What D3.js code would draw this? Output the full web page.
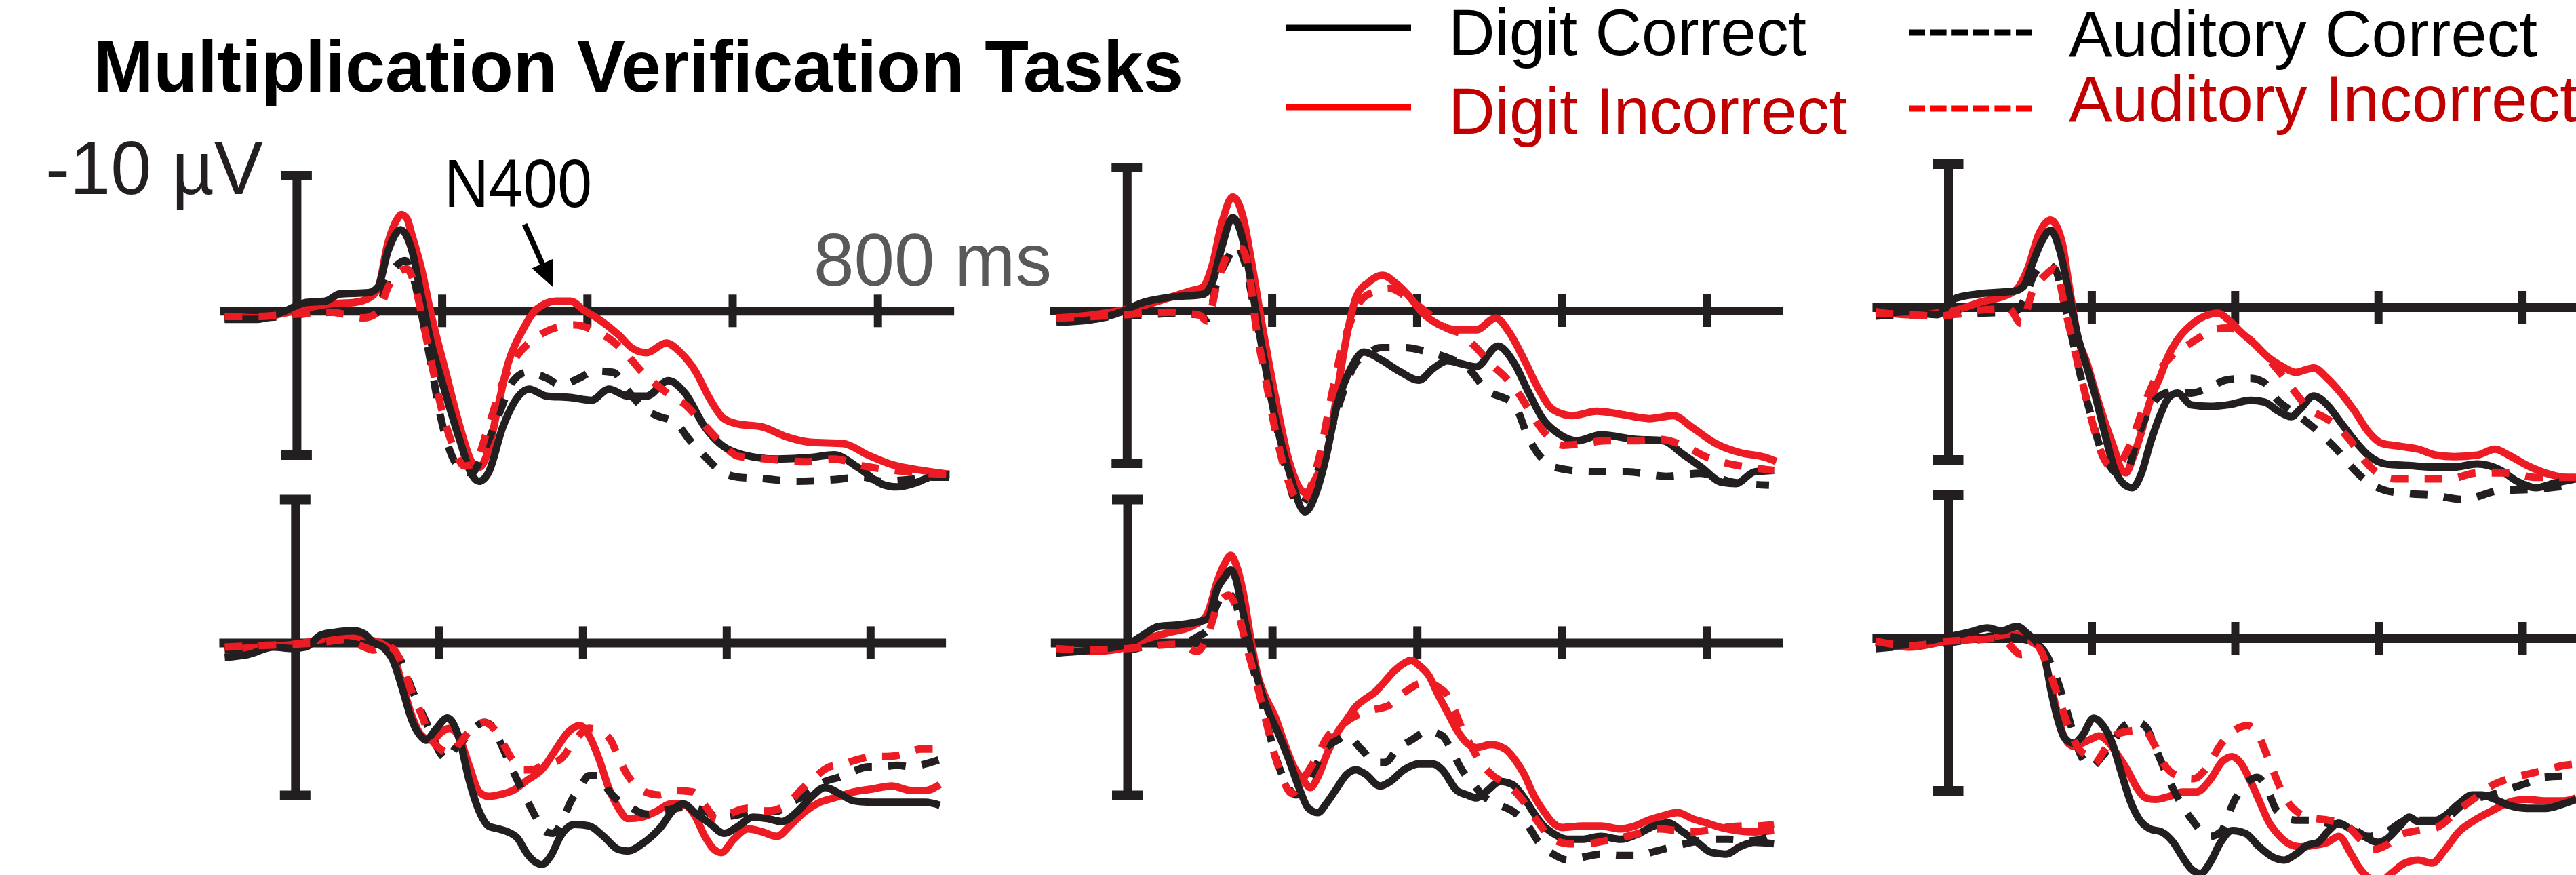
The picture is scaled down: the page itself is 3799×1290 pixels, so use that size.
<!DOCTYPE html>
<html><head><meta charset="utf-8">
<script src="https://cdn.jsdelivr.net/npm/d3@7"></script>
<style>
html,body{margin:0;padding:0;background:#fff;overflow:hidden}
svg{display:block}
text{font-family:"Liberation Sans Narrow","Arial Narrow","Liberation Sans",Arial,sans-serif}
</style></head><body>
<svg id="chart" width="3799" height="1290"></svg>
<script>
// ---------- DATA (time in ms, amplitude in µV, negative plotted up) ----------
const conditions = ["Digit Correct", "Digit Incorrect", "Auditory Correct", "Auditory Incorrect"];
const timeTicks = [200, 400, 600, 800];
const capValues = [-9.7, 10.3];
const titleText = "Multiplication Verification Tasks";

const p1DigitCorrect = [[-99,0.6],[-53,0.6],[-20,0.1],[13,-0.6],[40,-0.7],[59,-1.2],[99,-1.3],[112,-1.7],[126,-4.3],[143,-5.8],[159,-4.3],[172,-1.0],[185,2.2],[205,5.9],[225,9.3],[241,11.7],[251,12.2],[264,11.6],[284,8.3],[304,6.2],[320,5.6],[344,6.1],[377,6.2],[406,6.4],[430,5.6],[456,6.1],[482,6.1],[512,5.0],[535,5.9],[562,8.3],[585,9.6],[615,10.3],[661,10.6],[707,10.5],[740,10.3],[773,11.2],[806,12.4],[826,12.6],[853,12.3],[872,11.9],[899,11.7]];
const p1DigitIncorrect = [[-99,0.4],[-53,0.5],[-20,0.2],[13,-0.2],[46,-0.5],[79,-0.6],[99,-0.9],[112,-1.6],[126,-4.9],[139,-6.6],[144,-6.9],[152,-6.6],[159,-5.4],[172,-3.0],[185,0.2],[205,4.3],[225,8.3],[241,10.8],[251,11.2],[264,10.0],[278,6.7],[291,3.8],[311,1.4],[330,-0.1],[357,-0.7],[377,-0.7],[397,0.0],[416,0.6],[443,1.7],[463,2.7],[482,3.0],[509,2.3],[529,3.0],[549,4.3],[568,6.2],[588,7.7],[608,8.1],[641,8.3],[674,9.0],[707,9.4],[753,9.5],[786,10.3],[820,11.0],[859,11.4],[899,11.7]];
const p1AuditoryCorrect = [[-99,0.5],[-53,0.5],[-20,0.4],[13,0.2],[46,0.1],[92,0.0],[109,0.2],[126,-2.3],[139,-3.3],[149,-3.6],[159,-2.7],[172,0.2],[185,3.8],[198,7.5],[211,10.0],[228,11.4],[241,11.6],[258,10.0],[278,7.5],[297,5.1],[317,4.4],[344,4.8],[363,5.3],[390,4.8],[410,4.3],[436,4.4],[456,5.7],[476,6.9],[496,7.5],[522,8.0],[542,9.3],[562,10.4],[582,11.4],[608,11.9],[641,12.0],[687,12.2],[734,12.1],[780,11.9],[806,12.2],[839,12.1],[872,11.9],[899,11.9]];
const p1AuditoryIncorrect = [[-99,0.4],[-53,0.4],[-20,0.3],[13,0.2],[46,0.1],[92,0.5],[112,0.1],[126,-1.7],[139,-2.7],[152,-3.0],[165,-1.4],[175,1.0],[188,4.3],[202,7.5],[218,10.0],[231,11.1],[245,10.9],[264,8.3],[284,5.1],[304,3.2],[330,1.9],[357,1.2],[383,1.0],[410,1.4],[436,2.2],[456,3.2],[476,4.4],[496,5.3],[516,6.1],[535,6.7],[555,7.8],[582,9.3],[608,10.4],[648,10.6],[700,10.8],[740,10.6],[780,11.1],[820,11.4],[859,11.6],[899,11.7]];

const p2DigitCorrect = [[-97,0.8],[-48,0.6],[-8,0.1],[19,-0.5],[58,-0.9],[105,-1.1],[118,-1.9],[131,-4.3],[146,-6.3],[161,-4.6],[171,-2.0],[184,1.8],[204,7.1],[224,10.9],[246,13.6],[262,12.2],[272,10.5],[290,6.4],[310,3.8],[327,2.8],[350,3.3],[376,4.1],[403,4.7],[423,3.9],[442,3.4],[462,3.6],[482,3.8],[512,2.4],[535,3.6],[555,5.6],[575,7.4],[595,8.3],[621,8.8],[654,8.4],[701,8.7],[740,8.8],[767,9.7],[793,10.6],[820,11.6],[840,11.7],[866,10.9],[893,10.8]];
const p2DigitIncorrect = [[-97,0.5],[-48,0.3],[19,-0.3],[85,-1.3],[105,-1.6],[118,-3.1],[131,-5.9],[146,-7.7],[161,-6.2],[171,-3.6],[184,0.2],[204,5.6],[224,10.2],[246,12.3],[262,11.2],[277,9.4],[290,5.6],[303,1.8],[317,-1.0],[333,-1.9],[353,-2.4],[370,-1.9],[389,-1.0],[409,0.2],[429,0.9],[456,1.3],[482,1.3],[509,0.5],[528,1.5],[548,3.3],[568,5.3],[588,6.7],[615,7.1],[648,6.8],[681,7.0],[721,7.3],[754,7.1],[780,7.9],[813,9.0],[846,9.6],[879,9.9],[896,10.2]];
const p2AuditoryCorrect = [[-97,0.7],[-48,0.6],[-8,0.3],[19,0.3],[58,0.2],[105,0.3],[112,0.5],[124,-1.9],[137,-3.3],[151,-4.4],[163,-3.2],[177,0.2],[191,3.6],[204,7.1],[217,10.2],[237,13.2],[263,10.9],[283,7.9],[300,5.3],[315,3.6],[330,3.0],[350,2.5],[383,2.5],[416,2.8],[449,3.3],[469,3.8],[495,5.3],[535,6.4],[555,8.7],[591,10.6],[641,10.9],[691,10.9],[744,11.2],[790,11.0],[836,11.6],[886,11.8]];
const p2AuditoryIncorrect = [[-97,0.5],[-48,0.4],[-8,0.3],[19,0.2],[58,0.1],[100,0.3],[111,0.7],[124,-1.7],[141,-3.9],[158,-4.2],[168,-2.8],[178,1.0],[191,4.5],[204,7.9],[217,10.6],[240,13.0],[264,10.2],[283,5.6],[297,2.5],[310,0.6],[323,-0.7],[343,-1.3],[363,-1.5],[389,-0.8],[416,0.2],[442,1.2],[462,1.6],[482,2.5],[502,3.6],[522,4.5],[542,5.7],[562,7.3],[581,8.5],[601,9.1],[628,9.0],[661,8.8],[701,8.8],[734,8.7],[767,9.1],[800,9.9],[826,10.3],[860,10.6],[893,10.8]];

const p3DigitCorrect = [[-101,0.5],[-53,0.3],[-15,0.5],[10,-0.6],[42,-0.9],[93,-1.1],[105,-1.4],[118,-3.0],[130,-4.4],[143,-5.2],[156,-3.8],[168,-1.1],[181,2.0],[194,4.1],[206,6.1],[219,8.6],[232,10.9],[244,11.9],[257,12.2],[270,11.2],[282,9.2],[295,7.4],[308,6.1],[320,5.8],[339,6.6],[365,6.7],[390,6.6],[422,6.3],[441,6.4],[460,7.0],[479,7.4],[491,6.9],[510,6.0],[529,6.6],[548,7.8],[567,9.0],[586,10.0],[611,10.6],[643,10.7],[675,10.8],[706,10.8],[738,10.6],[770,11.0],[795,11.8],[820,12.2],[846,11.9],[876,11.6]];
const p3DigitIncorrect = [[-101,0.3],[-53,0.5],[10,0.2],[42,-0.3],[93,-1.1],[111,-2.6],[127,-5.0],[143,-5.9],[159,-4.4],[168,-1.7],[181,2.0],[194,3.8],[206,5.8],[219,7.8],[232,9.6],[241,10.9],[248,11.2],[257,10.3],[270,8.4],[282,6.3],[295,4.8],[308,3.2],[320,2.2],[339,1.2],[358,0.6],[377,0.4],[390,0.8],[409,1.7],[428,2.5],[447,3.4],[466,4.0],[485,4.4],[510,4.1],[529,4.8],[548,5.8],[567,7.0],[586,8.4],[605,9.2],[630,9.4],[656,9.6],[681,10.0],[706,10.1],[738,10.0],[763,9.6],[782,10.0],[808,10.7],[833,11.2],[858,11.5],[876,11.6]];
const p3AuditoryCorrect = [[-101,0.6],[-53,0.5],[-15,0.5],[42,0.4],[93,0.3],[105,-0.4],[121,-2.3],[137,-2.9],[149,-2.6],[162,-0.3],[175,2.5],[187,5.1],[200,7.4],[213,9.6],[225,10.7],[235,11.2],[251,10.9],[263,9.0],[276,7.4],[295,6.0],[314,5.7],[339,5.8],[365,5.4],[390,4.9],[422,4.8],[441,5.1],[460,6.3],[479,7.0],[504,7.9],[523,8.7],[542,9.6],[561,10.7],[580,11.6],[611,12.4],[643,12.6],[675,12.7],[719,13.0],[769,12.4],[820,12.3],[876,12.0]];
const p3AuditoryIncorrect = [[-101,0.4],[-53,0.5],[-15,0.6],[42,0.2],[85,0.1],[102,1.1],[118,-1.1],[134,-2.1],[149,-2.6],[165,0.5],[178,3.2],[191,5.8],[203,8.1],[216,10.1],[225,10.7],[238,10.6],[251,9.6],[263,8.1],[276,6.3],[295,4.3],[314,3.2],[333,2.6],[352,2.0],[371,1.5],[390,1.4],[409,1.7],[428,2.5],[447,3.5],[466,4.6],[485,5.8],[504,6.9],[523,7.4],[542,8.0],[561,9.0],[580,10.3],[599,11.2],[624,11.6],[656,11.6],[700,11.6],[738,11.2],[782,11.2],[820,11.5],[876,11.5]];

const p4DigitCorrect = [[-98,1.0],[-65,0.8],[-30,0.3],[-5,0.4],[15,0.3],[35,-0.5],[55,-0.7],[82,-0.8],[96,-0.6],[109,0.0],[122,0.3],[136,1.2],[149,3.1],[162,5.2],[176,6.4],[182,6.6],[195,5.9],[212,5.1],[229,6.6],[242,9.3],[256,11.4],[269,12.4],[283,12.6],[296,12.8],[309,13.2],[323,14.3],[336,14.9],[343,15.0],[356,14.4],[369,13.1],[389,12.3],[409,12.4],[429,13.1],[450,14.0],[463,14.1],[483,13.6],[496,13.1],[510,12.4],[523,11.5],[540,10.9],[556,11.5],[576,12.2],[597,12.9],[617,12.4],[637,11.8],[657,11.9],[677,12.1],[697,11.5],[717,10.5],[737,9.8],[757,10.2],[777,10.7],[803,10.8],[830,10.8],[857,10.8],[877,10.8],[897,11.0]];
const p4DigitIncorrect = [[-98,0.5],[-51,0.3],[2,0.1],[35,-0.2],[69,-0.5],[102,-0.2],[122,0.1],[136,0.8],[149,2.8],[162,4.9],[176,6.3],[190,6.6],[205,6.0],[215,5.8],[229,6.5],[242,8.3],[256,10.1],[269,10.4],[283,10.3],[303,10.0],[323,9.3],[343,8.6],[363,7.2],[379,6.1],[396,5.6],[409,6.3],[423,7.9],[436,9.8],[450,11.2],[463,11.9],[483,11.8],[503,11.4],[523,10.9],[543,11.0],[556,11.7],[570,13.1],[583,14.0],[593,14.2],[610,13.3],[630,12.6],[650,12.8],[670,13.1],[690,12.3],[710,11.4],[730,10.8],[750,10.5],[777,10.1],[803,9.9],[830,9.7],[857,10.0],[877,10.0],[897,9.6]];
const p4AuditoryCorrect = [[-98,0.5],[-51,0.3],[2,0.2],[35,0.1],[69,-0.2],[96,0.1],[122,0.2],[136,0.5],[149,1.4],[162,3.1],[176,4.7],[189,6.1],[202,7.5],[212,7.9],[222,7.2],[236,6.5],[249,5.8],[263,5.4],[273,5.6],[283,6.5],[296,7.9],[309,9.3],[323,10.7],[336,11.9],[349,12.8],[359,12.9],[373,11.9],[383,10.8],[396,9.8],[409,9.0],[423,9.0],[436,10.0],[450,10.7],[463,11.0],[476,11.4],[490,11.6],[510,11.4],[530,11.2],[550,11.1],[570,11.4],[590,11.8],[610,11.7],[630,11.5],[650,11.4],[670,11.4],[690,10.8],[710,10.3],[723,9.8],[737,9.4],[757,9.1],[777,8.7],[797,8.4],[817,8.4],[837,8.3],[857,8.4],[877,8.2],[897,7.9]];
const p4AuditoryIncorrect = [[-98,0.3],[-51,0.2],[2,0.1],[35,0.0],[69,-0.2],[96,0.3],[109,0.5],[122,0.2],[136,0.4],[149,1.5],[162,3.3],[176,4.9],[189,6.5],[202,7.2],[216,7.5],[229,6.8],[246,5.8],[263,5.4],[276,5.8],[289,6.8],[302,7.9],[316,8.6],[329,8.6],[349,8.2],[369,7.9],[389,6.6],[409,5.8],[425,6.0],[439,6.6],[452,8.0],[463,9.0],[483,10.0],[506,10.3],[530,10.0],[553,10.1],[570,11.0],[586,11.9],[603,11.6],[630,11.2],[656,11.4],[683,11.0],[703,10.0],[723,9.1],[743,8.4],[763,8.2],[783,7.9],[803,7.7],[823,7.7],[850,7.5],[870,7.2],[897,7.2]];

const p5DigitCorrect = [[-98,0.7],[-48,0.5],[1,0.1],[18,-0.4],[44,-1.1],[71,-1.2],[97,-1.4],[111,-1.6],[124,-3.6],[134,-4.4],[143,-4.9],[150,-4.3],[157,-2.7],[167,-0.4],[177,1.9],[187,3.6],[197,4.9],[210,6.3],[223,7.9],[237,9.8],[250,11.2],[263,11.5],[276,10.8],[290,9.8],[303,8.9],[316,8.6],[329,8.9],[349,9.7],[363,9.4],[382,8.6],[402,8.2],[422,8.2],[435,8.6],[455,10.0],[469,10.3],[482,10.5],[495,10.1],[515,9.4],[532,9.6],[548,10.5],[561,11.5],[575,12.4],[588,12.9],[608,13.3],[628,13.3],[654,13.1],[681,13.3],[707,12.9],[727,12.4],[747,12.2],[767,12.8],[787,13.5],[807,14.2],[827,14.3],[846,13.8],[866,13.5],[893,13.6]];
const p5DigitIncorrect = [[-98,0.5],[-48,0.6],[1,0.3],[18,-0.1],[51,-0.6],[97,-1.3],[111,-2.0],[124,-4.1],[134,-5.3],[143,-5.9],[150,-5.3],[160,-3.4],[170,-0.4],[180,2.2],[190,3.6],[204,5.0],[217,6.8],[230,8.4],[243,9.3],[253,9.8],[263,9.1],[276,7.5],[290,6.1],[303,5.2],[316,4.3],[329,3.8],[343,3.3],[356,2.6],[369,1.9],[382,1.4],[392,1.2],[402,1.5],[416,2.2],[429,3.5],[442,4.7],[455,5.9],[469,6.8],[482,7.1],[502,6.9],[522,7.2],[535,7.9],[548,8.9],[561,10.3],[575,11.4],[588,12.2],[601,12.5],[628,12.4],[654,12.4],[681,12.6],[701,12.4],[720,12.0],[740,11.7],[760,11.5],[780,11.9],[800,12.2],[820,12.5],[840,12.7],[866,12.8],[893,12.7]];
const p5AuditoryCorrect = [[-98,0.7],[-48,0.5],[1,0.5],[38,0.1],[71,0.1],[97,-0.4],[111,-0.9],[124,-2.6],[137,-3.4],[150,-2.6],[163,-0.2],[180,2.9],[193,5.5],[206,7.9],[220,9.6],[233,10.3],[243,10.0],[256,8.8],[273,7.2],[290,6.6],[303,6.3],[323,7.2],[343,8.1],[356,8.1],[373,7.2],[392,6.6],[415,6.0],[435,6.3],[448,7.3],[462,8.6],[478,9.6],[495,10.5],[515,11.0],[535,11.5],[555,12.5],[568,13.5],[588,14.3],[608,14.7],[630,14.5],[654,14.3],[680,14.4],[704,14.4],[730,14.1],[754,13.8],[780,13.5],[803,13.3],[830,13.3],[860,13.4],[893,13.0]];
const p5AuditoryIncorrect = [[-98,0.4],[-48,0.5],[1,0.4],[38,0.2],[71,0.1],[97,0.6],[111,-0.5],[124,-2.4],[140,-3.2],[153,-2.0],[165,0.3],[180,3.0],[193,5.6],[206,8.0],[218,9.6],[227,10.2],[243,9.2],[263,7.6],[276,6.4],[296,5.6],[310,5.1],[336,4.6],[363,4.2],[382,3.4],[402,2.8],[416,2.7],[429,3.0],[441,3.5],[452,4.6],[462,5.8],[475,7.0],[485,7.9],[505,9.0],[525,9.6],[545,10.6],[565,12.0],[588,13.3],[610,13.6],[634,13.6],[660,13.4],[681,13.2],[707,12.9],[734,12.6],[757,12.7],[777,12.8],[800,12.7],[826,12.5],[850,12.4],[870,12.4],[893,12.3]];

const p6DigitCorrect = [[-101,0.6],[-53,0.4],[0,-0.1],[29,-0.4],[55,-0.7],[74,-0.5],[96,-0.8],[111,-0.3],[124,0.3],[134,1.1],[143,3.4],[153,5.5],[162,6.7],[175,7.1],[187,6.6],[203,5.4],[216,5.9],[229,7.1],[241,9.0],[254,11.0],[266,12.2],[282,12.9],[298,13.1],[314,13.8],[327,14.8],[339,15.6],[352,15.9],[365,15.2],[380,13.8],[396,13.0],[415,13.2],[434,14.1],[453,14.8],[469,15.0],[485,14.6],[501,14.0],[516,13.8],[529,13.1],[545,12.5],[561,12.9],[580,13.4],[599,13.8],[611,13.6],[630,12.7],[643,12.1],[656,12.4],[675,12.4],[693,12.0],[712,11.2],[731,10.6],[744,10.6],[763,10.9],[782,11.3],[807,11.5],[833,11.5],[858,11.2],[876,10.9]];
const p6DigitIncorrect = [[-101,0.3],[-53,0.6],[0,0.2],[29,0.1],[61,-0.1],[93,-0.3],[111,0.1],[130,0.8],[143,3.1],[153,5.2],[162,6.7],[175,7.3],[187,7.1],[200,6.8],[210,6.6],[225,7.1],[238,8.0],[251,9.0],[263,10.1],[276,10.8],[289,10.9],[308,10.7],[327,10.4],[346,10.4],[365,9.6],[383,8.3],[396,8.0],[409,8.5],[421,9.6],[434,11.0],[447,12.4],[459,13.2],[472,13.8],[491,14.1],[510,14.0],[529,13.8],[545,13.4],[561,14.5],[573,15.5],[586,16.2],[599,16.6],[618,15.9],[637,15.2],[656,15.0],[675,15.2],[693,14.3],[712,13.1],[731,12.4],[757,11.7],[782,11.1],[807,10.9],[833,11.0],[858,11.0],[876,10.8]];
const p6AuditoryCorrect = [[-101,0.7],[-53,0.5],[0,0.3],[42,0.0],[74,-0.2],[99,0.0],[124,0.4],[137,1.1],[149,2.4],[162,4.3],[172,6.0],[184,7.8],[200,8.7],[213,8.1],[229,7.1],[244,6.0],[260,5.6],[276,6.0],[289,7.4],[311,9.9],[339,12.2],[365,13.4],[380,13.1],[399,11.0],[418,9.7],[431,9.4],[444,10.1],[459,11.7],[485,12.3],[507,12.3],[529,12.5],[558,12.7],[586,13.4],[611,13.1],[640,12.3],[687,12.3],[725,11.0],[757,10.6],[782,10.2],[807,9.8],[829,9.4],[876,9.3]];
const p6AuditoryIncorrect = [[-101,0.2],[-53,0.5],[0,0.2],[42,0.1],[74,0.0],[102,1.1],[124,0.6],[143,2.5],[156,4.3],[168,6.0],[181,7.4],[197,8.1],[203,8.5],[219,7.5],[235,6.5],[250,6.3],[273,6.2],[289,7.3],[301,8.5],[320,9.3],[342,9.5],[360,8.8],[380,7.2],[400,6.2],[418,5.9],[433,6.6],[447,8.2],[469,10.7],[502,12.1],[530,12.3],[554,12.6],[575,13.6],[592,14.3],[611,14.0],[630,13.3],[656,13.0],[681,12.8],[712,11.6],[735,10.8],[757,10.0],[782,9.5],[807,9.2],[833,8.9],[858,8.6],[876,8.5]];

// ---------- LAYOUT / STYLE ----------
const INK = "#231f20", RED = "#ed1c24";
const panelData = [
  [p1DigitCorrect, p1DigitIncorrect, p1AuditoryCorrect, p1AuditoryIncorrect],
  [p2DigitCorrect, p2DigitIncorrect, p2AuditoryCorrect, p2AuditoryIncorrect],
  [p3DigitCorrect, p3DigitIncorrect, p3AuditoryCorrect, p3AuditoryIncorrect],
  [p4DigitCorrect, p4DigitIncorrect, p4AuditoryCorrect, p4AuditoryIncorrect],
  [p5DigitCorrect, p5DigitIncorrect, p5AuditoryCorrect, p5AuditoryIncorrect],
  [p6DigitCorrect, p6DigitIncorrect, p6AuditoryCorrect, p6AuditoryIncorrect]
];
const panelLayout = [
  {x0:437.4,  s:1.071,  y0:458.3, k:20.6},
  {x0:1661.8, s:1.069,  y0:458,   k:21.8},
  {x0:2873,   s:1.057,  y0:453,   k:21.8},
  {x0:435.3,  s:1.06,   y0:947.4, k:21.8},
  {x0:1662.5, s:1.068,  y0:947.4, k:21.8},
  {x0:2873,   s:1.0575, y0:941,   k:21.8}
];
const seriesStyle = [
  {color: INK, dash: null},
  {color: RED, dash: null},
  {color: INK, dash: "26,24"},
  {color: RED, dash: "26,24"}
];
const drawOrder = [1, 0, 2, 3];
const xExtent = [-106, 905];

const svg = d3.select("#chart");
svg.append("rect").attr("width", 3799).attr("height", 1290).attr("fill", "#fff");

const scales = [];
panelData.forEach((series, i) => {
  const L = panelLayout[i];
  const x = d3.scaleLinear().domain(xExtent).range(xExtent.map(t => L.x0 + t * L.s));
  const y = d3.scaleLinear().domain([-10, 10]).range([L.y0 - 10 * L.k, L.y0 + 10 * L.k]);
  scales.push({x, y});
  const g = svg.append("g");

  const gx = g.append("g").attr("transform", `translate(0,${y(0)})`)
    .call(d3.axisBottom(x).tickValues(timeTicks).tickFormat("").tickSizeOuter(0).tickSizeInner(24));
  gx.select(".domain").attr("stroke", INK).attr("stroke-width", 13);
  gx.selectAll(".tick line").attr("y1", -24).attr("y2", 24).attr("stroke", INK).attr("stroke-width", 12);

  const yBar = d3.scaleLinear().domain(capValues).range(capValues.map(y));
  const gy = g.append("g").attr("transform", `translate(${x(0)},0)`)
    .call(d3.axisLeft(yBar).tickValues(capValues).tickFormat("").tickSizeOuter(0).tickSizeInner(0));
  gy.select(".domain").attr("stroke", INK).attr("stroke-width", 13);
  gy.selectAll(".tick line").attr("x1", -22.5).attr("x2", 22.5).attr("stroke", INK).attr("stroke-width", 14);

  const line = d3.line().x(d => x(d[0])).y(d => y(d[1])).curve(d3.curveMonotoneX);
  drawOrder.forEach(si => {
    const st = seriesStyle[si];
    g.append("path").datum(series[si])
      .attr("d", line)
      .attr("fill", "none")
      .attr("stroke", st.color)
      .attr("stroke-width", 11)
      .attr("stroke-linejoin", "round")
      .attr("stroke-dasharray", st.dash);
  });
});

// ---------- TEXT ----------
function txt(s, x, y, size, opts = {}) {
  const t = svg.append("text").attr("x", x).attr("y", y).text(s)
    .attr("font-size", size).attr("fill", opts.fill || "#000")
    .attr("font-weight", opts.weight || "normal");
  if (opts.len) t.attr("textLength", opts.len).attr("lengthAdjust", "spacingAndGlyphs");
  return t;
}
txt(titleText, 138, 135, 108, {weight: "bold", len: 1607});
txt("-10 µV", 67, 286, 111, {fill: INK, len: 321});
txt("N400", 655, 305, 100, {fill: "#000", len: 218});
txt("800 ms", 1200, 421, 110, {fill: "#58595b", len: 351});

const legendItems = [
  {label: conditions[0], lx: [1897, 2081], ly: 41,  tx: 2136, ty: 81,  len: 528, line: "#000",    text: "#000",    dash: null},
  {label: conditions[1], lx: [1897, 2081], ly: 158, tx: 2136, ty: 197, len: 588, line: "#ff0000", text: "#c00000", dash: null},
  {label: conditions[2], lx: [2815, 2997], ly: 48,  tx: 3051, ty: 83,  len: 691, line: "#000",    text: "#000",    dash: "24,7.6"},
  {label: conditions[3], lx: [2815, 2997], ly: 160, tx: 3051, ty: 179, len: 751, line: "#ff0000", text: "#c00000", dash: "24,7.6"}
];
legendItems.forEach(it => {
  svg.append("line").attr("x1", it.lx[0]).attr("x2", it.lx[1]).attr("y1", it.ly).attr("y2", it.ly)
    .attr("stroke", it.line).attr("stroke-width", 9).attr("stroke-dasharray", it.dash);
  txt(it.label, it.tx, it.ty, 96, {fill: it.text, len: it.len});
});

{
  const {x, y} = scales[0];
  const tail = [x(314), y(-6.2)], tip = [x(353), y(-1.7)];
  const dx = tip[0] - tail[0], dy = tip[1] - tail[1], L = Math.hypot(dx, dy);
  const ux = dx / L, uy = dy / L, hl = 38, hw = 17;
  const base = [tip[0] - ux * hl, tip[1] - uy * hl];
  svg.append("line").attr("x1", tail[0]).attr("y1", tail[1]).attr("x2", base[0] + ux * 4).attr("y2", base[1] + uy * 4)
    .attr("stroke", "#000").attr("stroke-width", 8);
  svg.append("path").attr("d", `M${tip[0]},${tip[1]}L${base[0] - uy * hw},${base[1] + ux * hw}L${base[0] + uy * hw},${base[1] - ux * hw}Z`)
    .attr("fill", "#000");
}
</script>
</body></html>
